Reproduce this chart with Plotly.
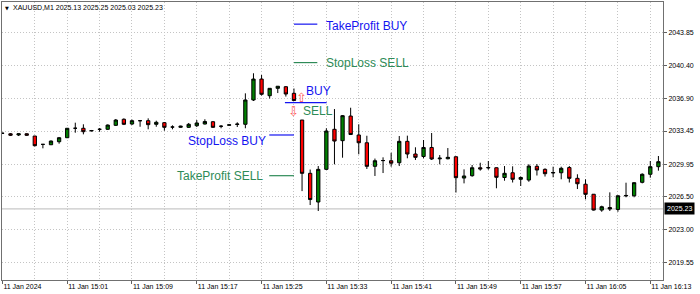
import pandas as pd
import plotly.graph_objects as go

# ---------------- data ----------------
start_time = "2024-01-11 14:53"
n_bars = 82
times = pd.date_range(start_time, periods=n_bars, freq="min")

opens = [2033.21, 2033.16, 2033.03, 2033.16, 2032.92, 2032.04, 2032.00, 2032.32, 2032.74, 2033.74,
         2033.74, 2033.46, 2033.63, 2033.63, 2034.05, 2034.69, 2034.19, 2034.54, 2034.54, 2034.16,
         2034.33, 2033.87, 2033.84, 2033.84, 2034.01, 2034.19, 2034.43, 2033.95, 2034.06, 2034.14,
         2034.16, 2036.73, 2038.94, 2037.18, 2037.96, 2038.13, 2037.43, 2034.61, 2028.98, 2025.95,
         2029.40, 2033.63, 2032.43, 2035.03, 2033.03, 2032.21, 2029.72, 2030.33, 2030.31, 2030.10,
         2032.36, 2031.02, 2030.76, 2031.71, 2030.51, 2030.52, 2030.73, 2028.48, 2028.73, 2029.57,
         2029.55, 2029.57, 2028.54, 2029.04, 2028.35, 2028.27, 2029.72, 2029.40, 2029.02, 2029.04,
         2029.59, 2028.45, 2027.83, 2026.77, 2025.10, 2025.37, 2025.16, 2026.59, 2026.61, 2028.03,
         2028.88, 2029.68]
highs = [2033.27, 2033.24, 2033.21, 2033.21, 2032.92, 2032.04, 2032.45, 2032.82, 2033.77, 2034.33,
         2034.16, 2033.56, 2033.77, 2034.14, 2034.72, 2034.79, 2034.66, 2034.54, 2034.79, 2034.54,
         2034.40, 2034.05, 2034.01, 2034.30, 2034.61, 2034.69, 2034.51, 2034.08, 2034.14, 2034.37,
         2037.43, 2039.55, 2039.37, 2037.99, 2038.20, 2038.20, 2037.94, 2034.61, 2029.38, 2029.75,
         2033.74, 2035.77, 2035.14, 2035.91, 2034.16, 2032.95, 2030.54, 2030.67, 2031.15, 2032.92,
         2032.96, 2031.73, 2032.50, 2033.24, 2030.91, 2031.65, 2030.78, 2029.40, 2029.86, 2030.10,
         2030.28, 2029.61, 2029.75, 2029.72, 2028.64, 2029.94, 2029.96, 2029.51, 2029.68, 2029.68,
         2029.75, 2028.88, 2028.35, 2026.79, 2025.56, 2026.97, 2026.64, 2027.99, 2028.03, 2028.98,
         2030.28, 2030.81]
lows = [2033.16, 2032.92, 2032.92, 2032.92, 2031.83, 2031.62, 2031.97, 2032.11, 2032.71, 2033.27,
        2033.10, 2033.40, 2033.38, 2033.56, 2033.98, 2034.08, 2034.08, 2033.90, 2033.63, 2033.90,
        2033.48, 2033.63, 2033.80, 2033.77, 2033.87, 2034.14, 2033.77, 2033.74, 2034.02, 2033.87,
        2033.74, 2036.62, 2037.20, 2036.88, 2037.46, 2037.09, 2036.62, 2027.10, 2025.63, 2025.00,
        2029.33, 2029.93, 2030.63, 2033.03, 2030.99, 2029.44, 2028.70, 2029.01, 2029.68, 2029.75,
        2030.57, 2030.39, 2030.57, 2030.39, 2029.93, 2030.46, 2026.95, 2027.92, 2028.62, 2029.26,
        2029.36, 2027.40, 2028.20, 2028.01, 2027.64, 2028.09, 2028.75, 2028.64, 2028.56, 2028.35,
        2028.01, 2027.32, 2026.23, 2025.05, 2024.92, 2025.00, 2024.92, 2026.45, 2026.45, 2027.92,
        2028.52, 2029.26]
closes = [2033.21, 2033.00, 2033.16, 2033.00, 2031.90, 2032.04, 2032.39, 2032.74, 2033.74, 2033.74,
          2033.38, 2033.50, 2033.63, 2034.08, 2034.61, 2034.16, 2034.54, 2034.54, 2034.12, 2034.37,
          2033.84, 2033.87, 2033.96, 2034.16, 2034.30, 2034.45, 2033.84, 2033.95, 2034.10, 2034.18,
          2036.73, 2038.94, 2037.33, 2037.96, 2038.18, 2037.36, 2036.67, 2028.98, 2026.21, 2029.40,
          2033.45, 2032.39, 2035.07, 2033.08, 2032.21, 2029.72, 2030.31, 2030.33, 2030.05, 2032.36,
          2031.02, 2030.67, 2031.71, 2030.49, 2030.58, 2030.67, 2028.52, 2028.70, 2029.57, 2029.44,
          2029.59, 2028.56, 2028.98, 2028.35, 2028.54, 2029.75, 2029.33, 2028.94, 2029.06, 2029.51,
          2028.45, 2027.88, 2026.76, 2025.10, 2025.45, 2025.21, 2026.61, 2026.64, 2027.99, 2028.88,
          2029.68, 2030.21]

price_ticks = [2043.85, 2040.40, 2036.90, 2033.45, 2029.95, 2026.50, 2023.00, 2019.55]
time_ticks = ["2024-01-11 14:53", "2024-01-11 15:01", "2024-01-11 15:09", "2024-01-11 15:17",
              "2024-01-11 15:25", "2024-01-11 15:33", "2024-01-11 15:41", "2024-01-11 15:49",
              "2024-01-11 15:57", "2024-01-11 16:05", "2024-01-11 16:13"]
time_labels = ["11 Jan 2024", "11 Jan 15:01", "11 Jan 15:09", "11 Jan 15:17", "11 Jan 15:25",
               "11 Jan 15:33", "11 Jan 15:41", "11 Jan 15:49", "11 Jan 15:57", "11 Jan 16:05",
               "11 Jan 16:13"]
grid_times = ["2024-01-11 14:57", "2024-01-11 15:05", "2024-01-11 15:13", "2024-01-11 15:21",
              "2024-01-11 15:29", "2024-01-11 15:37", "2024-01-11 15:45", "2024-01-11 15:53",
              "2024-01-11 16:01", "2024-01-11 16:09"]

symbol = "XAUUSD,M1"
bar_ohlc = "2025.13 2025.25 2025.03 2025.23"
current_price = 2025.23

# trade levels
tp_buy = 2044.74
sl_sell = 2040.68
buy_price = 2036.44
sl_buy = 2033.03
tp_sell = 2028.73

BLUE = "#1414f0"
GREEN = "#2e8b57"
ARROW = "#ff5a5a"
FONT = "Liberation Sans"

fig = go.Figure()
fig.add_trace(go.Candlestick(
    x=times, open=opens, high=highs, low=lows, close=closes,
    increasing=dict(fillcolor="#008000", line=dict(color="#000000", width=1)),
    decreasing=dict(fillcolor="#ff0000", line=dict(color="#000000", width=1)),
    whiskerwidth=0, hoverinfo="skip", showlegend=False,
))

grid_dash = "1px,2px"
grid_col = "#c4c4c4"

fig.update_layout(
    width=700, height=294, autosize=False,
    margin=dict(l=2, r=37, t=2, b=14),
    paper_bgcolor="white", plot_bgcolor="white",
    boxgap=0.42,
    font=dict(family=FONT, size=7, color="#000000"),
    xaxis=dict(
        type="date",
        range=["2024-01-11 14:52:57", "2024-01-11 16:14:34"],
        rangeslider=dict(visible=False),
        tickmode="array", tickvals=time_ticks, ticktext=time_labels,
        ticks="outside", ticklen=3, tickcolor="#606060",
        ticklabelposition="outside right",
        showgrid=True, gridcolor=grid_col, griddash=grid_dash, gridwidth=1,
        minor=dict(tickmode="array", tickvals=grid_times, showgrid=True,
                   gridcolor=grid_col, griddash=grid_dash, ticks=""),
        showline=True, linecolor="#707070", linewidth=1, mirror=True,
        zeroline=False, tickfont=dict(size=7, family=FONT),
    ),
    yaxis=dict(
        side="right",
        range=[2017.71, 2047.08],
        tickmode="array", tickvals=price_ticks,
        ticktext=[f"{v:.2f}" for v in price_ticks],
        ticks="outside", ticklen=3, tickcolor="#606060",
        showgrid=True, gridcolor=grid_col, griddash=grid_dash, gridwidth=1,
        showline=True, linecolor="#707070", linewidth=1, mirror=True,
        zeroline=False, tickfont=dict(size=7, family=FONT),
    ),
)

shapes = []
# current price line
shapes.append(dict(type="line", xref="paper", x0=0, x1=1, yref="y", y0=current_price, y1=current_price,
                   line=dict(color="#c8c8c8", width=1.3), layer="below"))
def hline(t0, t1, y, color):
    shapes.append(dict(type="line", xref="x", yref="y", x0=t0, x1=t1, y0=y, y1=y,
                       line=dict(color=color, width=1.2)))

hline("2024-01-11 15:29:00", "2024-01-11 15:31:53", tp_buy, BLUE)
hline("2024-01-11 15:29:00", "2024-01-11 15:31:53", sl_sell, GREEN)
hline("2024-01-11 15:27:53", "2024-01-11 15:33:02", buy_price, BLUE)
hline("2024-01-11 15:25:57", "2024-01-11 15:29:00", sl_buy, BLUE)
hline("2024-01-11 15:25:57", "2024-01-11 15:29:00", tp_sell, GREEN)
fig.update_layout(shapes=shapes)

def label(t, y, text, color, anchor="left", size=12, fam=FONT):
    fig.add_annotation(x=t, y=y, xref="x", yref="y", text=text, showarrow=False,
                       xanchor=anchor, yanchor="middle",
                       font=dict(color=color, size=size, family=fam), borderpad=0)

label("2024-01-11 15:32:50", 2044.56, "TakeProfit BUY", BLUE)
label("2024-01-11 15:32:50", 2040.62, "StopLoss SELL", GREEN)
label("2024-01-11 15:30:20", 2037.68, "BUY", BLUE)
label("2024-01-11 15:30:00", 2035.56, "SELL", GREEN)
label("2024-01-11 15:25:42", 2032.39, "StopLoss BUY", BLUE, anchor="right")
label("2024-01-11 15:25:18", 2028.73, "TakeProfit SELL", GREEN, anchor="right")
fig.add_annotation(x="2024-01-11 15:29:56", y=2037.04, xref="x", yref="y", text="⇧",
                   showarrow=False, font=dict(color=ARROW, size=13, family="DejaVu Sans"), borderpad=0)
fig.add_annotation(x="2024-01-11 15:28:53", y=2035.49, xref="x", yref="y", text="⇩",
                   showarrow=False, font=dict(color=ARROW, size=13, family="DejaVu Sans"), borderpad=0)

# header
fig.add_annotation(xref="paper", yref="paper", x=0.0147, y=1, xanchor="left", yanchor="top",
                   text=f"{symbol} {bar_ohlc}", showarrow=False, borderpad=0, yshift=-1,
                   font=dict(size=7, family=FONT, color="#000000"))
fig.add_annotation(xref="paper", yref="paper", x=0.0025, y=1, xanchor="left", yanchor="top",
                   text="▼", showarrow=False, borderpad=0, yshift=-2,
                   font=dict(size=5, family="DejaVu Sans", color="#000000"))
# current price tag
fig.add_annotation(xref="paper", yref="y", x=1, y=current_price, xanchor="left", yanchor="middle",
                   text=f"{current_price:.2f}", showarrow=False, bgcolor="#000000", borderpad=2,
                   xshift=1, font=dict(size=7, family=FONT, color="#ffffff"))

fig.write_html("out.html")
